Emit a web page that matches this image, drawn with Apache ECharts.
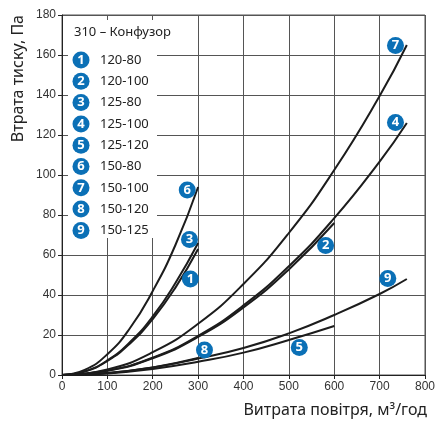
<!DOCTYPE html>
<html>
<head>
<meta charset="utf-8">
<script src="https://cdn.jsdelivr.net/npm/echarts@6/dist/echarts.min.js"></script>
<style>
html,body{margin:0;padding:0;background:#fff;}
#c{width:438px;height:421px;}
</style>
</head>
<body>
<div id="c"></div>
<script>
// ---- data ----
const xTicks = [0,100,200,300,400,500,600,700,800];
const yTicks = [0,20,40,60,80,100,120,140,160,180];
const legendTitle = '310 – Конфузор';
const names = ['120-80','120-100','125-80','125-100','125-120','150-80','150-100','150-120','150-125'];

const xShort = [0,50,100,150,200,250,300];
const xMid = [0,100,200,300,400,500,600];
const xLong = [0,100,200,300,400,500,600,700,760];
const x8 = [0,100,200,300];

const s1 = [0,1.7,7,15.8,28,43.7,63];
const s2 = [0,2.1,8.4,19,33.8,52.8,76];
const s3 = [0,1.8,7.3,16.5,29.3,46,66];
const s4 = [0,2.2,8.7,19.6,34.8,54.4,78.4,106.7,126];
const s5 = [0,0.8,3,6.6,11.2,17.5,24.5];
const s6 = [0,2.6,10.4,23.5,42,65,94];
const s7 = [0,2.8,11.4,25.6,45.5,71,102.5,139.5,165];
const s8 = [0,1,3.8,8.5];
const s9 = [0,1,3.8,8.2,13.5,20.8,30,40.5,48];

// curve number markers: [x, y, number]
const markers = [
  [283,48,'1'],[581,64.7,'2'],[281,67.8,'3'],[735,126.3,'4'],[523,13.8,'5'],
  [276,92.5,'6'],[735,164.7,'7'],[314,12.5,'8'],[718,48.3,'9']
];

const curves = [
  [xShort,s1],[xMid,s2],[xShort,s3],[xLong,s4],[xMid,s5],
  [xShort,s6],[xLong,s7],[x8,s8],[xLong,s9]
];

const BLUE = '#0b70b6';
const chart = echarts.init(document.getElementById('c'), null, {renderer:'canvas'});

const series = curves.map((c,i)=>({
  type:'line', name:names[i], smooth:true, symbol:'none',
  data:c[0].map((x,j)=>[x,c[1][j]]),
  lineStyle:{color:'#1c1c1c', width:2}, z:3
}));
series.push({
  type:'scatter', data:markers, symbol:'circle', symbolSize:17,
  itemStyle:{color:BLUE, opacity:1}, z:5,
  label:{show:true, position:'inside', formatter:p=>p.data[2], color:'#fff',
    fontFamily:'Noto Sans', fontWeight:'bold', fontSize:13}
});

// legend graphic
const gr = [];
gr.push({type:'rect', left:68, top:20, shape:{width:89, height:218}, style:{fill:'#fff'}, z:10});
gr.push({type:'text', left:74, top:26, style:{text:legendTitle, font:'13px "Noto Sans"', fill:'#222'}, z:11});
names.forEach((n,i)=>{
  const cy = 60 + i*21.3;
  gr.push({type:'circle', shape:{cx:81, cy:cy, r:8.5}, style:{fill:BLUE}, z:11});
  gr.push({type:'text', x:81, y:cy, style:{text:String(i+1), font:'bold 13px "Noto Sans"', fill:'#fff', align:'center', verticalAlign:'middle'}, z:12});
  gr.push({type:'text', x:100, y:cy, style:{text:n, font:'13px "Noto Sans"', fill:'#222', verticalAlign:'middle'}, z:11});
});

chart.setOption({
  animation:false,
  backgroundColor:'#fff',
  grid:{left:62, right:12, top:15, bottom:46, show:true, borderColor:'#555', borderWidth:1},
  xAxis:{type:'value', min:xTicks[0], max:xTicks[xTicks.length-1], interval:100,
    name:'Витрата повітря, м³/год', nameLocation:'end', nameGap:0,
    nameTextStyle:{fontFamily:'Noto Sans', fontSize:16, color:'#222', align:'right', verticalAlign:'top', padding:[27,-2,0,0]},
    axisLine:{lineStyle:{color:'#222', width:1}},
    axisTick:{show:true, length:4, lineStyle:{color:'#222'}},
    axisLabel:{fontFamily:'Liberation Sans', fontSize:12, color:'#333', margin:6},
    splitLine:{show:true, lineStyle:{color:'#555', width:1}}
  },
  yAxis:{type:'value', min:yTicks[0], max:yTicks[yTicks.length-1], interval:20,
    name:'Втрата тиску, Па', nameLocation:'end', nameRotate:90, nameGap:0,
    nameTextStyle:{fontFamily:'Noto Sans', fontSize:16, color:'#222', align:'right', verticalAlign:'bottom', padding:[0,0,36,0]},
    axisLine:{show:true, lineStyle:{color:'#222', width:1}},
    axisTick:{show:true, length:4, lineStyle:{color:'#222'}},
    axisLabel:{fontFamily:'Liberation Sans', fontSize:12, color:'#333', margin:6},
    splitLine:{show:true, lineStyle:{color:'#555', width:1}}
  },
  graphic:gr,
  series:series
});
</script>
</body>
</html>
